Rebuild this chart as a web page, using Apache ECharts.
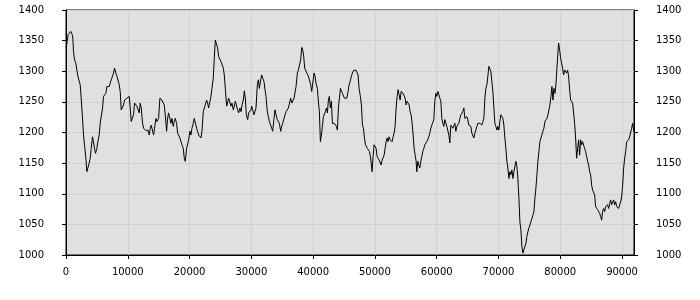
<!DOCTYPE html>
<html>
<head>
<meta charset="utf-8">
<script src="https://cdn.jsdelivr.net/npm/echarts@6/dist/echarts.min.js"></script>
<style>html,body{margin:0;padding:0;background:#fff}#c{width:700px;height:300px}</style>
</head>
<body>
<div id="c"></div>
<script>
const xTickValues = [0, 10000, 20000, 30000, 40000, 50000, 60000, 70000, 80000, 90000];
const yTickValues = [1000, 1050, 1100, 1150, 1200, 1250, 1300, 1350, 1400];
const xs = [
27,351,567,783,999,1107,1215,1377,1593,1755,1917,2133,2295,2457,2673,2835,2997,3213,3375,3537,3753,3915,4077,4293,4455,4617,4779,4995,5157,5373,5535,5697,5913,6075,6237,6453,6615,6777,6993,7155,7317,7533,7695,7857,8073,8235,8397,8613,8775,8937,9153,9315,9477,9693,9855,10017,10233,10395,10557,10773,10935,11097,11313,11475,11637,11853,12015,12177,12393,12555,12717,12933,13095,13257,13473,13635,13797,14013,14175,14337,14553,14715,
14985,15201,15363,15525,15741,15903,16065,16281,16443,16605,16821,16983,17145,17361,17523,17685,17901,18063,18225,18441,18603,18765,18981,19143,19305,19521,19683,19845,20061,20223,20385,20601,20763,20925,21141,21303,21465,21681,21843,22005,22221,22383,22545,22761,22923,23085,23301,23463,23625,23841,24003,24165,24381,24543,24705,24921,25083,25245,25461,25623,25785,26001,26163,26325,26541,26703,26865,27081,27243,27405,27621,27783,27945,28161,28323,28485,28701,28863,29025,29187,29403,29565,29781,29943,
30051,30213,30429,30591,30753,30969,31131,31293,31509,31671,31833,32049,32211,32373,32589,32751,32913,33129,33291,33453,33669,33831,33993,34209,34371,34533,34749,34911,35073,35289,35451,35613,35829,35991,36153,36369,36531,36693,36909,37071,37233,37449,37611,37773,37989,38151,38313,38475,38637,38853,39015,39231,39393,39609,39771,39933,40149,40311,40473,40689,40851,41013,41175,41337,41499,41661,41823,41985,42147,42309,42471,42633,42795,42957,43119,43281,43443,43605,43767,43929,44091,44253,44415,44577,44739,44901,45063,45225,
45441,45657,45819,45981,46197,46359,46521,46737,46899,47061,47277,47439,47601,47817,47979,48141,48303,48465,48627,48789,48951,49113,49275,49437,49545,49707,49869,50031,50193,50355,50517,50679,50841,51003,51165,51327,51489,51651,51813,51975,52137,52299,52461,52623,52785,52947,53109,53271,53433,53595,53757,53919,54081,54243,54405,54567,54729,54891,55053,55215,55377,55539,55701,55863,56025,56187,56349,56511,56673,56781,56943,57105,57267,57429,57591,57753,57915,58077,58239,58401,58563,58725,58887,59049,59211,59373,59535,59697,59859,60021,60183,60345,
60507,60669,60831,60993,61155,61317,61479,61641,61803,61965,62127,62289,62451,62613,62775,62937,63099,63261,63423,63585,63747,63909,64071,64233,64395,64557,64719,64881,65043,65205,65367,65529,65691,65853,66015,66177,66339,66501,66663,66825,66987,67149,67311,67473,67635,67797,67959,68121,68283,68445,68607,68769,68931,69093,69255,69417,69579,69741,69903,70065,70227,70389,70551,70713,70875,71037,71199,71361,71523,71685,71847,72009,72171,72333,72495,72657,72819,72981,73143,73305,73467,73629,73791,73953,74115,74277,74439,74601,74763,74925,75087,75249,75411,75573,
75735,75897,76059,76221,76383,76545,76707,76869,77031,77193,77355,77517,77679,77841,78003,78165,78327,78489,78651,78813,78975,79137,79299,79461,79623,79731,79893,80055,80217,80379,80541,80703,80865,81027,81189,81351,81513,81675,81837,81999,82161,82323,82485,82647,82809,82971,83133,83295,83457,83619,83781,83943,84105,84267,84429,84591,84753,84915,85077,85239,85401,85563,85725,85887,86049,86211,86373,86535,86697,86859,87021,87183,87345,87507,87669,87831,87993,88155,88317,88479,88641,88803,88965,89127,89289,89451,89613,89775,89937,90099,90261,90423,90585,90747,90909,91071,91233,91395,91557,91719,91881,91935
];
const ys = [
1338,1360,1362,1365,1360,1354,1332,1319,1313,1311,1292,1292,1278,1256,1223,1196,1180,1158,1136,1139,1150,1158,1174,1193,1196,1174,1166,1174,1185,1196,1215,1218,1240,1259,1262,1264,1275,1272,1275,1281,1283,1292,1297,1305,1297,1292,1289,1278,1267,1237,1240,1245,1253,1251,1256,1257,1259,1240,1218,1215,1229,1248,1245,1243,1240,1232,1248,1240,1215,1207,1204,1203,1202,1204,1196,1207,1212,1215,1196,1207,1223,1218,
1223,1256,1259,1253,1253,1245,1229,1202,1223,1232,1229,1215,1223,1210,1218,1223,1215,1199,1196,1191,1188,1180,1174,1158,1153,1174,1174,1188,1202,1196,1207,1215,1223,1221,1207,1202,1196,1193,1191,1202,1234,1240,1245,1253,1248,1240,1251,1259,1272,1289,1322,1351,1349,1338,1324,1322,1316,1319,1305,1294,1272,1243,1245,1256,1259,1243,1248,1237,1243,1251,1253,1237,1232,1240,1234,1245,1253,1268,1256,1229,1221,1232,1234,1237,
1243,1237,1229,1229,1240,1278,1286,1272,1286,1294,1289,1283,1270,1259,1234,1226,1218,1215,1207,1202,1223,1237,1229,1221,1223,1215,1202,1210,1215,1218,1229,1234,1232,1240,1243,1256,1248,1251,1256,1256,1275,1297,1302,1305,1319,1339,1335,1324,1305,1300,1297,1292,1289,1278,1267,1264,1297,1292,1280,1272,1251,1234,1185,1196,1210,1226,1223,1234,1240,1232,1253,1259,1240,1251,1215,1212,1215,1212,1210,1204,1240,1256,1272,1270,1264,1261,1256,1253,
1256,1267,1278,1283,1292,1297,1301,1301,1302,1300,1294,1272,1262,1245,1212,1207,1191,1180,1180,1174,1172,1169,1161,1147,1136,1161,1180,1182,1174,1161,1158,1155,1153,1147,1155,1158,1163,1174,1185,1191,1185,1193,1188,1191,1185,1193,1199,1210,1240,1259,1270,1262,1253,1267,1270,1264,1262,1256,1245,1251,1248,1245,1234,1229,1215,1196,1174,1163,1153,1136,1153,1147,1142,1153,1161,1169,1174,1180,1182,1185,1188,1193,1199,1207,1212,1215,1221,1251,1264,1259,1267,1262,
1256,1251,1223,1215,1210,1221,1218,1210,1212,1196,1183,1212,1212,1207,1204,1215,1202,1210,1212,1215,1223,1229,1232,1234,1240,1223,1226,1226,1221,1212,1215,1210,1199,1202,1191,1199,1204,1210,1215,1218,1215,1218,1212,1218,1223,1256,1272,1278,1292,1308,1306,1300,1283,1267,1240,1215,1210,1204,1210,1204,1218,1229,1229,1223,1212,1191,1174,1153,1142,1125,1136,1131,1139,1125,1136,1133,1153,1144,1125,1093,1054,1041,1014,1003,1000,1014,1019,1030,1038,1044,1049,1054,1060,1065,
1071,1093,1109,1131,1153,1169,1185,1191,1196,1202,1207,1218,1215,1223,1229,1232,1245,1259,1275,1253,1272,1264,1278,1305,1330,1346,1335,1322,1313,1305,1294,1302,1305,1297,1302,1292,1270,1253,1251,1248,1245,1215,1191,1158,1174,1188,1163,1188,1180,1185,1182,1174,1169,1161,1153,1147,1136,1131,1114,1106,1109,1098,1079,1076,1074,1071,1068,1063,1057,1071,1076,1071,1079,1076,1082,1076,1084,1090,1082,1084,1090,1082,1087,1079,1082,1076,1074,1087,1095,1114,1142,1158,1169,1185,1182,1188,1193,1191,1207,1215,1212,1200
];
const xMax = 91935;
const data = xs.map((x, i) => [x, ys[i]]);

const chart = echarts.init(document.getElementById('c'), null, {renderer: 'canvas'});
const font = {color: '#000', fontFamily: 'DejaVu Sans', fontSize: 10, formatter: v => String(v)};
const yAxisCommon = {
  type: 'value', min: 1000, max: 1400, interval: 50,
  axisLine: {show: true, lineStyle: {color: '#000', width: 1}},
  axisTick: {show: true, length: 4, lineStyle: {color: '#000'}},
  splitLine: {show: true, lineStyle: {color: '#d0d0d0', width: 1}},
  axisLabel: Object.assign({margin: 22}, font)
};
chart.setOption({
  animation: false,
  backgroundColor: '#fff',
  grid: {left: 66, right: 66, top: 10, bottom: 45, show: true, backgroundColor: '#e0e0e0', borderColor: '#000', borderWidth: 1},
  xAxis: {
    type: 'value', min: 0, max: xMax, interval: 10000,
    axisLine: {show: true, onZero: false, lineStyle: {color: '#000', width: 1}},
    axisTick: {show: true, length: 4, lineStyle: {color: '#000'}, customValues: xTickValues},
    splitLine: {show: true, lineStyle: {color: '#d0d0d0', width: 1}},
    axisLabel: Object.assign({margin: 12, customValues: xTickValues}, font)
  },
  yAxis: [
    Object.assign({position: 'left'}, yAxisCommon),
    Object.assign({position: 'right'}, yAxisCommon)
  ],
  series: [{
    type: 'line', data: data, showSymbol: false, symbol: 'none',
    lineStyle: {color: '#000', width: 1}, yAxisIndex: 0
  }]
});
</script>
</body>
</html>
